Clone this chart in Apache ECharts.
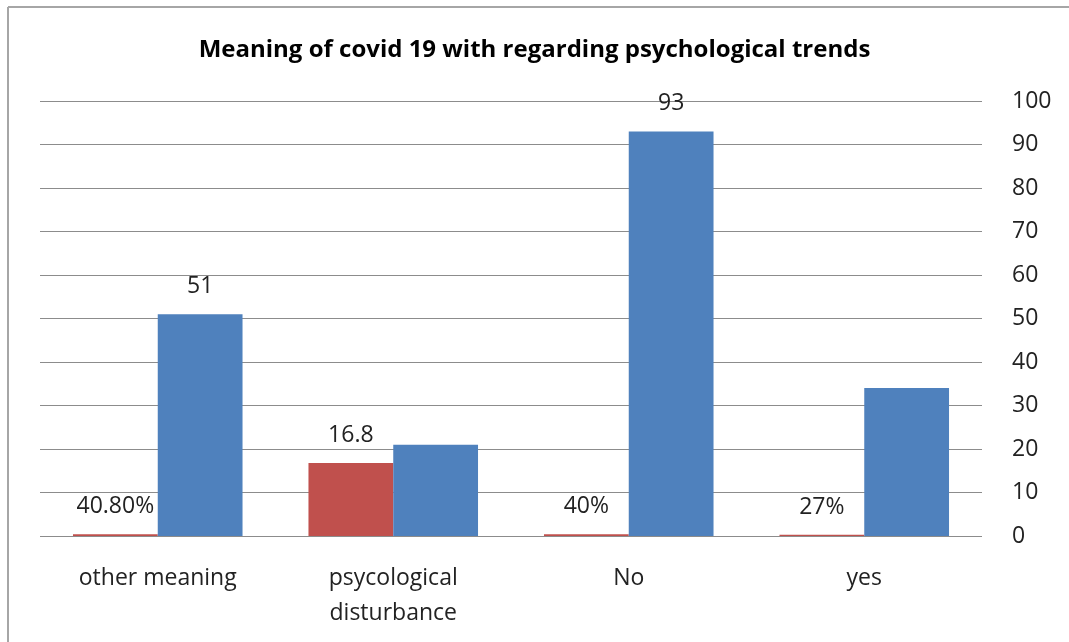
<!DOCTYPE html>
<html>
<head>
<meta charset="utf-8">
<script src="https://cdn.jsdelivr.net/npm/echarts@6/dist/echarts.min.js"></script>
<style>
html,body{margin:0;padding:0;background:#fff;}
#chart{width:1069px;height:642px;}
</style>
</head>
<body>
<div id="chart"></div>
<script>
const titleText = 'Meaning of covid 19 with regarding psychological trends';
const categories = ['other meaning', 'psycological\ndisturbance', 'No', 'yes'];
const redValues = [0.408, 16.8, 0.4, 0.27];
const redLabels = ['40.80%', '16.8', '40%', '27%'];
const blueValues = [51, 21, 93, 34];
const blueLabels = ['51', '', '93', ''];
const yMin = 0, yMax = 100, yStep = 10;

const font = 'Open Sans, Noto Sans, sans-serif';
const fs = 23;
const chart = echarts.init(document.getElementById('chart'), null, {renderer: 'canvas'});
chart.setOption({
  animation: false,
  backgroundColor: '#fff',
  title: {
    text: titleText,
    left: 'center',
    top: 33,
    textStyle: {fontFamily: font, fontSize: 24, fontWeight: 'bold', color: '#000'}
  },
  graphic: [
    {type: 'line', shape: {x1: 8, y1: 7, x2: 1069, y2: 7}, style: {stroke: '#a6a6a6', lineWidth: 2}},
    {type: 'line', shape: {x1: 8, y1: 7, x2: 8, y2: 642}, style: {stroke: '#a6a6a6', lineWidth: 2}}
  ],
  grid: {left: 40, right: 87, top: 101, bottom: 106},
  xAxis: {
    type: 'category',
    data: categories,
    axisLine: {show: false},
    axisTick: {show: false},
    axisLabel: {fontFamily: font, fontSize: fs, color: '#222', margin: 25, lineHeight: 35, interval: 0,
      align: 'center', verticalAlign: 'top'}
  },
  yAxis: {
    type: 'value',
    position: 'right',
    min: yMin, max: yMax, interval: yStep,
    axisLine: {show: false},
    axisTick: {show: false},
    splitLine: {lineStyle: {color: '#8c8c8c', width: 1}},
    axisLabel: {fontFamily: font, fontSize: fs, color: '#222', margin: 30, align: 'left'}
  },
  series: [
    {
      type: 'bar',
      data: redValues,
      barGap: '0%',
      barCategoryGap: '28%',
      itemStyle: {color: '#c0504d'},
      label: {show: true, position: 'top', distance: 16, fontFamily: font, fontSize: fs, color: '#222',
        formatter: p => redLabels[p.dataIndex]}
    },
    {
      type: 'bar',
      data: blueValues,
      barGap: '0%',
      barCategoryGap: '28%',
      itemStyle: {color: '#4f81bd'},
      label: {show: true, position: 'top', distance: 16, fontFamily: font, fontSize: fs, color: '#222',
        formatter: p => blueLabels[p.dataIndex]}
    }
  ]
});
</script>
</body>
</html>
